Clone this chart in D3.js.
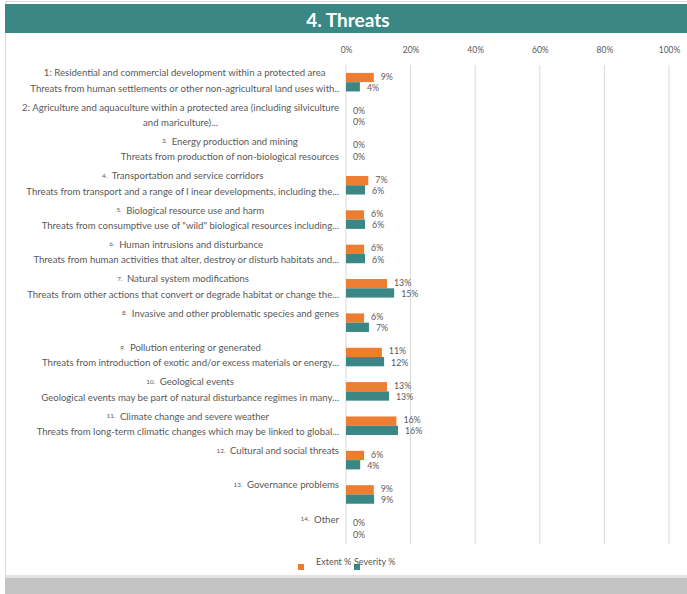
<!DOCTYPE html>
<html>
<head>
<meta charset="utf-8">
<script src="https://cdn.jsdelivr.net/npm/d3@7"></script>
<style>
  html, body { margin: 0; padding: 0; background: #fff; }
  svg { display: block; font-family: Lato, "Open Sans", sans-serif; }
</style>
</head>
<body>
<svg id="chart" width="687" height="594"></svg>
<script>
// Threat categories: numbering, heading and description line
const threatNumbers = ["1:", "2:", "3.", "4.", "5.", "6.", "7.", "8.", "9.", "10.", "11.", "12.", "13.", "14."];
const threatTitles = [
  "Residential and commercial development within a protected area",
  "Agriculture and aquaculture within a protected area (including silviculture",
  "Energy production and mining",
  "Transportation and service corridors",
  "Biological resource use and harm",
  "Human intrusions and disturbance",
  "Natural system modifications",
  "Invasive and other problematic species and genes",
  "Pollution entering or generated",
  "Geological events",
  "Climate change and severe weather",
  "Cultural and social threats",
  "Governance problems",
  "Other"
];
const threatDescriptions = [
  "Threats from human settlements or other non-agricultural land uses with..",
  "and mariculture)...",
  "Threats from production of non-biological resources",
  "Threats from transport and a range of l inear developments, including the...",
  "Threats from consumptive use of \"wild\" biological resources including...",
  "Threats from human activities that alter, destroy or disturb habitats and...",
  "Threats from other actions that convert or degrade habitat or change the...",
  "",
  "Threats from introduction of exotic and/or excess materials or energy...",
  "Geological events may be part of natural disturbance regimes in many...",
  "Threats from long-term climatic changes which may be linked to global...",
  "",
  "",
  ""
];

// Share of sites reporting each threat
const extentPct   = [0.086, 0, 0, 0.069, 0.056, 0.056, 0.127, 0.056, 0.111, 0.127, 0.156, 0.056, 0.086, 0];
const severityPct = [0.043, 0, 0, 0.059, 0.059, 0.059, 0.149, 0.071, 0.118, 0.133, 0.161, 0.044, 0.087, 0];

const seriesNames = ["Extent %", "Severity %"];
const seriesValues = [extentPct, severityPct];
const seriesColors = ["#ED7D31", "#3A8785"];
const tickValues = [0, 0.2, 0.4, 0.6, 0.8, 1.0];

const W = 687, H = 594;
const svg = d3.select("#chart");
const textGray = "#595959";
const fmt = d3.format(".0%");

// Frame, header band and footer band
svg.append("rect").attr("x", 5.5).attr("y", 1.5).attr("width", W).attr("height", H)
  .attr("fill", "none").attr("stroke", "#d9d9d9");
svg.append("rect").attr("x", 5).attr("y", 4).attr("width", W - 5).attr("height", 29)
  .attr("fill", "#3A8785");
svg.append("text").attr("x", 348).attr("y", 20).attr("dy", "0.35em")
  .attr("text-anchor", "middle").attr("fill", "#fff")
  .attr("font-weight", "bold").attr("font-size", 19).text("4. Threats");
svg.append("rect").attr("x", 5).attr("y", 575).attr("width", W - 5).attr("height", 3)
  .attr("fill", "#e3e3e3");
svg.append("rect").attr("x", 5).attr("y", 578).attr("width", W - 5).attr("height", H - 578)
  .attr("fill", "#c3c3c3");

// Scales
const x = d3.scaleLinear().domain([0, 1]).range([346, 669]);
const categories = d3.range(threatTitles.length);
const y0 = d3.scaleBand().domain(categories).range([65, 546])
  .paddingInner(0.46).paddingOuter(0.23);
const y1 = d3.scaleBand().domain(d3.range(seriesNames.length)).range([0, y0.bandwidth()]);

// Gridlines and top axis
const gridTop = 65, gridBottom = 544;
svg.append("g").selectAll("line").data(tickValues).join("line")
  .attr("x1", d => x(d)).attr("x2", d => x(d))
  .attr("y1", gridTop).attr("y2", gridBottom)
  .attr("stroke", "#d9d9d9").attr("stroke-width", 1);

const axis = svg.append("g").attr("transform", "translate(0,56)")
  .call(d3.axisTop(x).tickValues(tickValues).tickFormat(fmt).tickSize(0));
axis.select(".domain").remove();
axis.selectAll("text").attr("fill", textGray).attr("font-size", 8.5)
  .attr("font-family", "Lato, sans-serif");

// Bars
const groups = svg.append("g").selectAll("g").data(categories).join("g")
  .attr("transform", i => `translate(0,${y0(i)})`);

groups.selectAll("rect")
  .data(i => seriesValues.map((vals, s) => ({ s, v: vals[i] })))
  .join("rect")
  .attr("x", x(0))
  .attr("y", d => y1(d.s))
  .attr("width", d => x(d.v) - x(0))
  .attr("height", y1.bandwidth())
  .attr("fill", d => seriesColors[d.s]);

// Value labels, nudged apart so the pair stays legible
groups.selectAll("text.val")
  .data(i => seriesValues.map((vals, s) => ({ s, v: vals[i] })))
  .join("text").attr("class", "val")
  .attr("x", d => x(d.v) + 7)
  .attr("y", d => y1(d.s) + y1.bandwidth() / 2 + (d.s === 0 ? -1 : 1))
  .attr("dy", "0.35em")
  .attr("fill", textGray).attr("font-size", 8.8)
  .text(d => fmt(d.v));

// Category labels: two centred lines, block aligned against the axis
const labelRight = 339;
const labelSize = 9.6;
const labels = svg.append("g");
categories.forEach(i => {
  const cy = y0(i) + y0.bandwidth() / 2;
  const g = labels.append("g");
  const bigNum = i < 2;
  const t1 = g.append("text").attr("y", cy - 6).attr("dy", "0.35em")
    .attr("text-anchor", "middle").attr("fill", textGray).attr("font-size", labelSize);
  t1.append("tspan").attr("font-size", bigNum ? labelSize : 6.3)
    .attr("dy", bigNum ? 0 : -1.5)
    .text(threatNumbers[i] + " ");
  t1.append("tspan").attr("dy", bigNum ? 0 : 1.5).attr("dx", bigNum ? 0 : 3)
    .text(threatTitles[i]);
  const t2 = g.append("text").attr("y", cy + 6).attr("dy", "0.35em")
    .attr("text-anchor", "middle").attr("fill", textGray).attr("font-size", labelSize)
    .text(threatDescriptions[i]);
  const w = Math.max(t1.node().getComputedTextLength() + (bigNum ? 0 : 3),
                     t2.node().getComputedTextLength());
  const cx = labelRight - w / 2;
  t1.attr("x", cx); t2.attr("x", cx);
});

// Legend
const legendItems = [
  { name: seriesNames[0], color: seriesColors[0], sx: 298, tx: 316 },
  { name: seriesNames[1], color: seriesColors[1], sx: 354, tx: 354 }
];
const lg = svg.append("g");
lg.selectAll("rect").data(legendItems).join("rect")
  .attr("x", d => d.sx).attr("y", 564).attr("width", 6).attr("height", 6)
  .attr("fill", d => d.color);
lg.selectAll("text").data(legendItems).join("text")
  .attr("x", d => d.tx).attr("y", 562).attr("dy", "0.35em")
  .attr("fill", textGray).attr("font-size", 9).text(d => d.name);
</script>
</body>
</html>
